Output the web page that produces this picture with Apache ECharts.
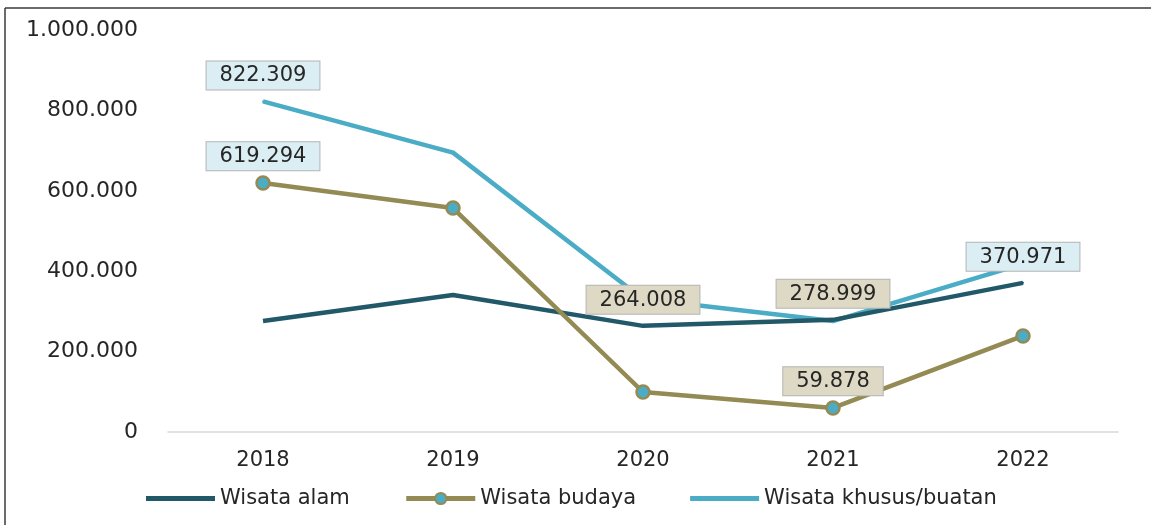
<!DOCTYPE html>
<html>
<head>
<meta charset="utf-8">
<script src="https://cdn.jsdelivr.net/npm/echarts@6/dist/echarts.min.js"></script>
<style>
  html, body { margin: 0; padding: 0; background: #fff; }
  #chart { width: 1151px; height: 525px; }
</style>
</head>
<body>
<div id="chart"></div>
<script>
// Data
const years = ['2018', '2019', '2020', '2021', '2022']
const wisataAlam = [276000, 341000, 264008, 278999, 370971]
const wisataBudaya = [619294, 557000, 99500, 59878, 239000]
const wisataKhusus = [822309, 695000, 331000, 276000, 418000]
const yTicks = [0, 200000, 400000, 600000, 800000, 1000000]

// which points carry a value box, and its colour
const alamLabels = { 2: 'beige', 3: 'beige', 4: 'blue' }
const budayaLabels = { 0: 'blue', 3: 'beige' }
const khususLabels = { 0: 'blue' }

const fmt = v => String(Math.round(v)).replace(/\B(?=(\d{3})+(?!\d))/g, '.')

const boxColors = {
  blue: '#daeef3',
  beige: '#ddd9c4'
}

// plain thick line for the legend (degenerate points keep the 69x14 box)
const lineIcon = 'path://M0,0L0,0.001M0,14L0,14.001M0,4.5H69V9.5H0Z'

// labelled points get a tiny symbol so the box has an anchor
const buildData = (values, labels, dist, tiny) => values.map((v, i) => {
  if (!labels[i]) return v
  const item = {
    value: v,
    label: {
      show: true,
      position: 'top',
      distance: dist,
      formatter: p => fmt(p.value),
      fontFamily: 'DejaVu Sans',
      fontSize: 21,
      color: '#262626',
      backgroundColor: boxColors[labels[i]],
      borderColor: '#b4b4b4',
      borderWidth: 1,
      padding: [4, 13, 3, 13]
    }
  }
  if (tiny) {
    item.symbol = 'circle'
    item.symbolSize = 2
  }
  return item
})

const chart = echarts.init(document.getElementById('chart'), null, { renderer: 'canvas' })

chart.setOption({
  animation: false,
  backgroundColor: '#fff',
  graphic: [
    { type: 'line', shape: { x1: 5, y1: 8, x2: 1151, y2: 8 }, style: { stroke: '#3a3a3a', lineWidth: 1.5 } },
    { type: 'line', shape: { x1: 5, y1: 8, x2: 5, y2: 525 }, style: { stroke: '#3a3a3a', lineWidth: 1.5 } }
  ],
  grid: { left: 168, right: 33, top: 30, bottom: 93 },
  legend: {
    left: 141,
    top: 483,
    itemWidth: 69,
    itemHeight: 14,
    itemGap: 54,
    lineStyle: { width: 5 },
    textStyle: { fontFamily: 'DejaVu Sans', fontSize: 21, color: '#262626' },
    data: [
      { name: 'Wisata alam', icon: lineIcon },
      { name: 'Wisata budaya' },
      { name: 'Wisata khusus/buatan', icon: lineIcon }
    ]
  },
  xAxis: {
    type: 'category',
    data: years,
    boundaryGap: true,
    axisLine: { lineStyle: { color: '#d9d9d9', width: 1.5 } },
    axisTick: { show: false },
    axisLabel: { fontFamily: 'DejaVu Sans', fontSize: 21, color: '#262626', margin: 18 }
  },
  yAxis: {
    type: 'value',
    min: yTicks[0],
    max: yTicks[yTicks.length - 1],
    interval: 200000,
    axisLine: { show: false },
    axisTick: { show: false },
    splitLine: { show: false },
    axisLabel: {
      fontFamily: 'DejaVu Sans',
      fontSize: 22,
      color: '#262626',
      margin: 30,
      formatter: v => fmt(v)
    }
  },
  series: [
    {
      name: 'Wisata alam',
      type: 'line',
      data: buildData(wisataAlam, alamLabels, 11, true),
      symbol: 'none',
      itemStyle: { color: '#215968' },
      lineStyle: { color: '#215968', width: 4.5 },
      z: 3
    },
    {
      name: 'Wisata budaya',
      type: 'line',
      data: buildData(wisataBudaya, budayaLabels, 5, false),
      symbol: 'circle',
      symbolSize: 13,
      itemStyle: { color: '#4bacc6', borderColor: '#948a54', borderWidth: 2.5 },
      lineStyle: { color: '#948a54', width: 4.5 },
      z: 4
    },
    {
      name: 'Wisata khusus/buatan',
      type: 'line',
      data: buildData(wisataKhusus, khususLabels, 11, true),
      symbol: 'none',
      itemStyle: { color: '#4bacc6' },
      lineStyle: { color: '#4bacc6', width: 4.5 },
      z: 2
    }
  ]
})
</script>
</body>
</html>
